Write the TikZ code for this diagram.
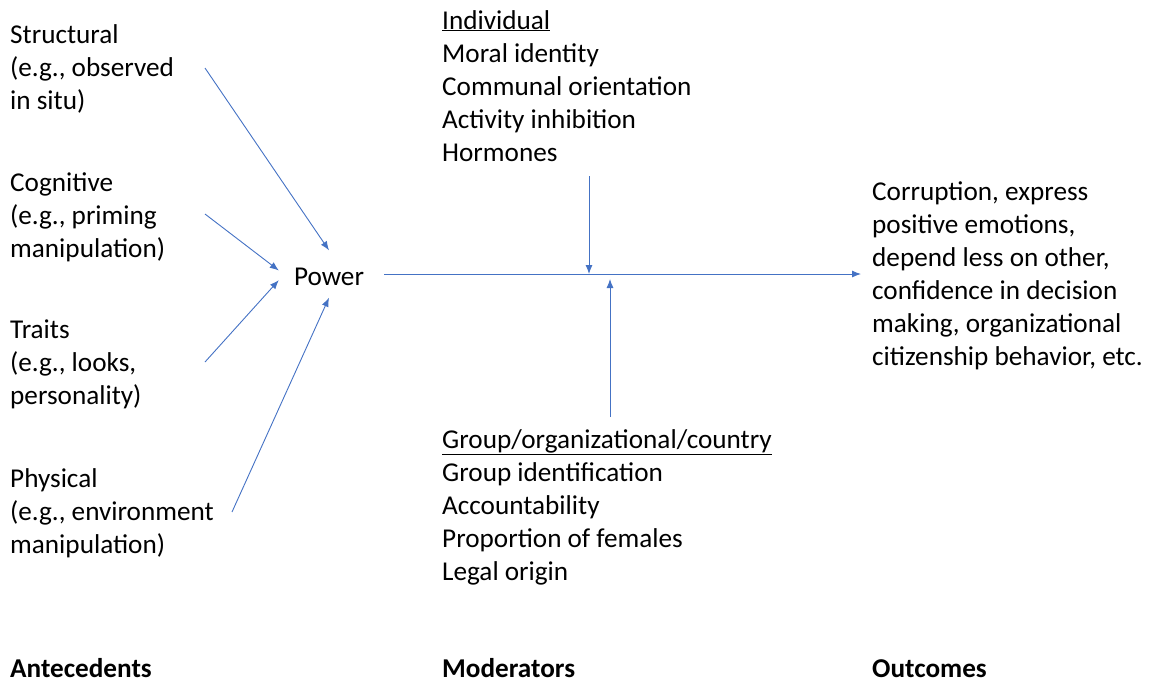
\documentclass[tikz,border=0pt]{standalone}
\usepackage{fontspec}
\setmainfont{Carlito}
\usetikzlibrary{arrows.meta}
\definecolor{linkblue}{HTML}{4472C4}
\tikzset{
  txt/.style={anchor=base west, inner sep=0pt, align=left,
    font=\fontsize{27.2}{33}\selectfont},
  link/.style={draw=linkblue, line width=0.9pt,
    -{Latex[length=9pt,width=7pt]}}
}
\begin{document}
\begin{tikzpicture}[x=1pt,y=-1pt]
  \useasboundingbox (0,0) rectangle (1149,681);
  % text blocks, placed by the baseline of their last line
  \draw
    (10,109) node[txt] (structural){Structural\\(e.g., observed\\in situ)}
    (10,257) node[txt] (cognitive){Cognitive\\(e.g., priming\\manipulation)}
    (10,404) node[txt] (traits){Traits\\(e.g., looks,\\personality)}
    (10,553) node[txt] (physical){Physical\\(e.g., environment\\manipulation)}
    (442,161) node[txt] (individual){\underline{Individual}\\Moral identity\\Communal orientation\\Activity inhibition\\Hormones}
    (442,580) node[txt] (group){\underline{Group/organizational/country}\\Group identification\\Accountability\\Proportion of females\\Legal origin}
    (872,365) node[txt] (outcomes){Corruption, express\\positive emotions,\\depend less on other,\\confidence in decision\\making, organizational\\citizenship behavior, etc.}
    (10,677) node[txt] (antecedents-lbl){\textbf{Antecedents}}
    (442,677) node[txt] (moderators-lbl){\textbf{Moderators}}
    (872,677) node[txt] (outcomes-lbl){\textbf{Outcomes}};
  \node[inner sep=0pt, minimum width=100pt, minimum height=47pt,
    text height=23pt, text depth=0pt, font=\fontsize{27.2}{33}\selectfont]
    (power) at (329,274) {Power};
  \coordinate (structural-out) at (205,68);
  \coordinate (cognitive-out) at (205,214);
  \coordinate (traits-out) at (205,362);
  \coordinate (physical-out) at (232,512);
  \coordinate (individual-out) at (589,176);
  \coordinate (group-out) at (610,417);
  \coordinate (outcomes-in) at (861,274);
  \begin{scope}[link]
    \draw (structural-out) to (power.north);
    \draw (cognitive-out) to (power.176);
    \draw (traits-out) to (power.187);
    \draw (physical-out) to (power.south);
    \draw[shorten <=5pt] (power.east) to (outcomes-in);
    \draw (individual-out) to (individual-out |- power.east);
    \draw[shorten >=5pt] (group-out) to (group-out |- power.east);
  \end{scope}
\end{tikzpicture}
\end{document}
